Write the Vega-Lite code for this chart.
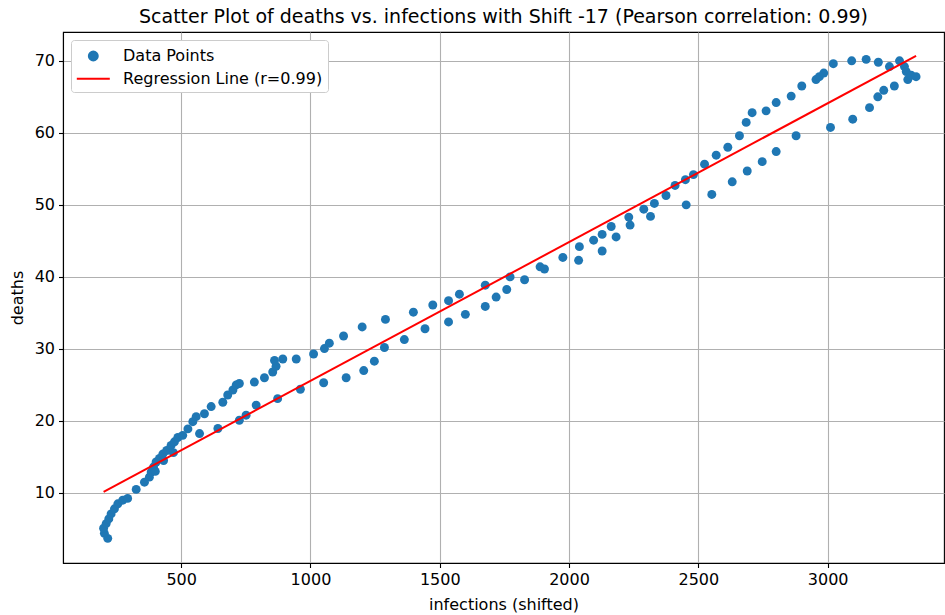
{
  "$schema": "https://vega.github.io/schema/vega-lite/v6.json",
  "autosize": {"type": "none"},
  "padding": {"left": 63, "top": 32, "right": 1, "bottom": 52},
  "width": 881,
  "height": 531,
  "background": "white",
  "title": {
    "text": "Scatter Plot of deaths vs. infections with Shift -17 (Pearson correlation: 0.99)",
    "font": "DejaVu Sans",
    "fontSize": 19,
    "fontWeight": "normal",
    "color": "black",
    "anchor": "middle",
    "offset": 5
  },
  "config": {
    "view": {"stroke": "black", "strokeWidth": 1.1},
    "axis": {
      "labelFont": "DejaVu Sans",
      "labelFontSize": 16,
      "labelColor": "black",
      "titleFont": "DejaVu Sans",
      "titleFontSize": 16,
      "titleFontWeight": "normal",
      "titleColor": "black",
      "tickColor": "black",
      "tickSize": 4.5,
      "tickWidth": 1.1,
      "labelPadding": 4,
      "domainColor": "black",
      "domainWidth": 1.1,
      "gridColor": "#b0b0b0",
      "gridWidth": 1.1,
      "gridOpacity": 1
    }
  },
  "datasets": {
    "points": [
      {"infections": 216, "deaths": 3.7}, {"infections": 203, "deaths": 4.4}, {"infections": 200, "deaths": 5.1},
      {"infections": 210, "deaths": 5.75}, {"infections": 220, "deaths": 6.4}, {"infections": 229, "deaths": 7.1},
      {"infections": 242, "deaths": 7.8}, {"infections": 255, "deaths": 8.5}, {"infections": 274, "deaths": 9.0},
      {"infections": 293, "deaths": 9.25}, {"infections": 326, "deaths": 10.5}, {"infections": 358, "deaths": 11.5},
      {"infections": 377, "deaths": 12.2}, {"infections": 384, "deaths": 12.9}, {"infections": 393, "deaths": 13.6},
      {"infections": 403, "deaths": 14.3}, {"infections": 416, "deaths": 14.8}, {"infections": 429, "deaths": 15.4},
      {"infections": 444, "deaths": 15.9}, {"infections": 461, "deaths": 16.6}, {"infections": 474, "deaths": 17.1},
      {"infections": 487, "deaths": 17.7}, {"infections": 506, "deaths": 18.0}, {"infections": 526, "deaths": 18.9},
      {"infections": 545, "deaths": 19.9}, {"infections": 558, "deaths": 20.6}, {"infections": 590, "deaths": 21.0},
      {"infections": 616, "deaths": 22.0}, {"infections": 661, "deaths": 22.6}, {"infections": 680, "deaths": 23.6},
      {"infections": 700, "deaths": 24.3}, {"infections": 713, "deaths": 25.0}, {"infections": 725, "deaths": 25.2},
      {"infections": 400, "deaths": 13.0}, {"infections": 432, "deaths": 14.5}, {"infections": 470, "deaths": 15.6},
      {"infections": 571, "deaths": 18.25}, {"infections": 642, "deaths": 18.95}, {"infections": 725, "deaths": 20.1},
      {"infections": 751, "deaths": 20.8}, {"infections": 790, "deaths": 22.2}, {"infections": 873, "deaths": 23.1},
      {"infections": 783, "deaths": 25.4}, {"infections": 822, "deaths": 26.0}, {"infections": 854, "deaths": 26.8},
      {"infections": 867, "deaths": 27.6}, {"infections": 861, "deaths": 28.4}, {"infections": 893, "deaths": 28.6},
      {"infections": 945, "deaths": 28.6}, {"infections": 1012, "deaths": 29.3}, {"infections": 1054, "deaths": 30.05},
      {"infections": 1073, "deaths": 30.8}, {"infections": 1128, "deaths": 31.8}, {"infections": 1200, "deaths": 33.05},
      {"infections": 1290, "deaths": 34.1}, {"infections": 1398, "deaths": 35.1}, {"infections": 1473, "deaths": 36.1},
      {"infections": 1534, "deaths": 36.7}, {"infections": 1576, "deaths": 37.6}, {"infections": 1676, "deaths": 38.85},
      {"infections": 1772, "deaths": 40.0}, {"infections": 1828, "deaths": 39.6}, {"infections": 1888, "deaths": 41.4},
      {"infections": 1905, "deaths": 41.1}, {"infections": 1976, "deaths": 42.7}, {"infections": 2040, "deaths": 44.2},
      {"infections": 2095, "deaths": 45.1}, {"infections": 2128, "deaths": 45.9}, {"infections": 2163, "deaths": 47.0},
      {"infections": 2182, "deaths": 45.55}, {"infections": 961, "deaths": 24.4}, {"infections": 1051, "deaths": 25.3},
      {"infections": 1138, "deaths": 26.0}, {"infections": 1206, "deaths": 27.0}, {"infections": 1247, "deaths": 28.3},
      {"infections": 1286, "deaths": 30.2}, {"infections": 1363, "deaths": 31.3}, {"infections": 1443, "deaths": 32.8},
      {"infections": 1534, "deaths": 33.75}, {"infections": 1599, "deaths": 34.8}, {"infections": 1676, "deaths": 35.9},
      {"infections": 1718, "deaths": 37.2}, {"infections": 1759, "deaths": 38.25}, {"infections": 2037, "deaths": 42.3},
      {"infections": 2128, "deaths": 43.6}, {"infections": 2231, "deaths": 48.3}, {"infections": 2236, "deaths": 47.2},
      {"infections": 2289, "deaths": 49.4}, {"infections": 2315, "deaths": 48.4}, {"infections": 2330, "deaths": 50.2},
      {"infections": 2375, "deaths": 51.3}, {"infections": 2410, "deaths": 52.7}, {"infections": 2450, "deaths": 53.5},
      {"infections": 2481, "deaths": 54.2}, {"infections": 2453, "deaths": 50.0}, {"infections": 2524, "deaths": 55.65},
      {"infections": 2569, "deaths": 56.9}, {"infections": 2614, "deaths": 58.0}, {"infections": 2659, "deaths": 59.6},
      {"infections": 2685, "deaths": 61.45}, {"infections": 2708, "deaths": 62.8}, {"infections": 2762, "deaths": 63.05},
      {"infections": 2801, "deaths": 64.2}, {"infections": 2859, "deaths": 65.1}, {"infections": 2552, "deaths": 51.45},
      {"infections": 2631, "deaths": 53.2}, {"infections": 2689, "deaths": 54.7}, {"infections": 2747, "deaths": 56.0},
      {"infections": 2801, "deaths": 57.4}, {"infections": 2878, "deaths": 59.6}, {"infections": 2900, "deaths": 66.5},
      {"infections": 2955, "deaths": 67.4}, {"infections": 2968, "deaths": 67.8}, {"infections": 2985, "deaths": 68.3},
      {"infections": 3022, "deaths": 69.6}, {"infections": 3093, "deaths": 70.0}, {"infections": 3149, "deaths": 70.2},
      {"infections": 3196, "deaths": 69.8}, {"infections": 3239, "deaths": 69.2}, {"infections": 3278, "deaths": 70.0},
      {"infections": 3297, "deaths": 69.2}, {"infections": 3304, "deaths": 68.5}, {"infections": 3310, "deaths": 67.4},
      {"infections": 3323, "deaths": 68.0}, {"infections": 3342, "deaths": 67.8}, {"infections": 3011, "deaths": 60.75},
      {"infections": 3097, "deaths": 61.9}, {"infections": 3162, "deaths": 63.5}, {"infections": 3194, "deaths": 65.0},
      {"infections": 3217, "deaths": 65.9}, {"infections": 3258, "deaths": 66.5}
    ],
    "fit": [
      {"infections": 200, "deaths": 10.14},
      {"infections": 3342, "deaths": 70.7}
    ]
  },
  "encoding": {
    "x": {
      "field": "infections",
      "type": "quantitative",
      "title": "infections (shifted)",
      "scale": {"domain": [43, 3450], "nice": false, "zero": false},
      "axis": {"values": [500, 1000, 1500, 2000, 2500, 3000], "titlePadding": 9, "format": "d"}
    },
    "y": {
      "field": "deaths",
      "type": "quantitative",
      "title": "deaths",
      "scale": {"domain": [0.28, 74], "nice": false, "zero": false},
      "axis": {"values": [10, 20, 30, 40, 50, 60, 70], "titlePadding": 9, "format": "d"}
    }
  },
  "layer": [
    {
      "data": {"name": "points"},
      "mark": {"type": "point", "filled": true, "opacity": 1, "size": 80, "strokeWidth": 0},
      "encoding": {
        "color": {
          "datum": "Data Points",
          "type": "nominal",
          "scale": {"domain": ["Data Points", "Regression Line (r=0.99)"], "range": ["#1f77b4", "#ff0000"]},
          "legend": {
            "title": null,
            "orient": "top-left",
            "offset": 8,
            "fillColor": "white",
            "strokeColor": "#cccccc",
            "cornerRadius": 3,
            "padding": 5,
            "labelFont": "DejaVu Sans",
            "labelFontSize": 16,
            "labelColor": "black",
            "labelLimit": 400,
            "labelOffset": 18.7,
            "symbolSize": 400,
            "symbolOffset": 6.3,
            "rowPadding": 2.7,
            "encoding": {
              "symbols": {
                "shape": {"value": {"expr": "datum.label === 'Data Points' ? 'circle' : 'M-1.65,0H1.65'"}},
                "size": {"value": {"expr": "datum.label === 'Data Points' ? 80 : 400"}},
                "fill": {"value": {"expr": "datum.label === 'Data Points' ? '#1f77b4' : 'transparent'"}},
                "stroke": {"value": {"expr": "datum.label === 'Data Points' ? 'transparent' : '#ff0000'"}},
                "strokeWidth": {"value": 2},
                "opacity": {"value": 1}
              }
            }
          }
        }
      }
    },
    {
      "data": {"name": "fit"},
      "mark": {"type": "line", "strokeWidth": 2},
      "encoding": {
        "color": {"datum": "Regression Line (r=0.99)", "type": "nominal"}
      }
    }
  ]
}
